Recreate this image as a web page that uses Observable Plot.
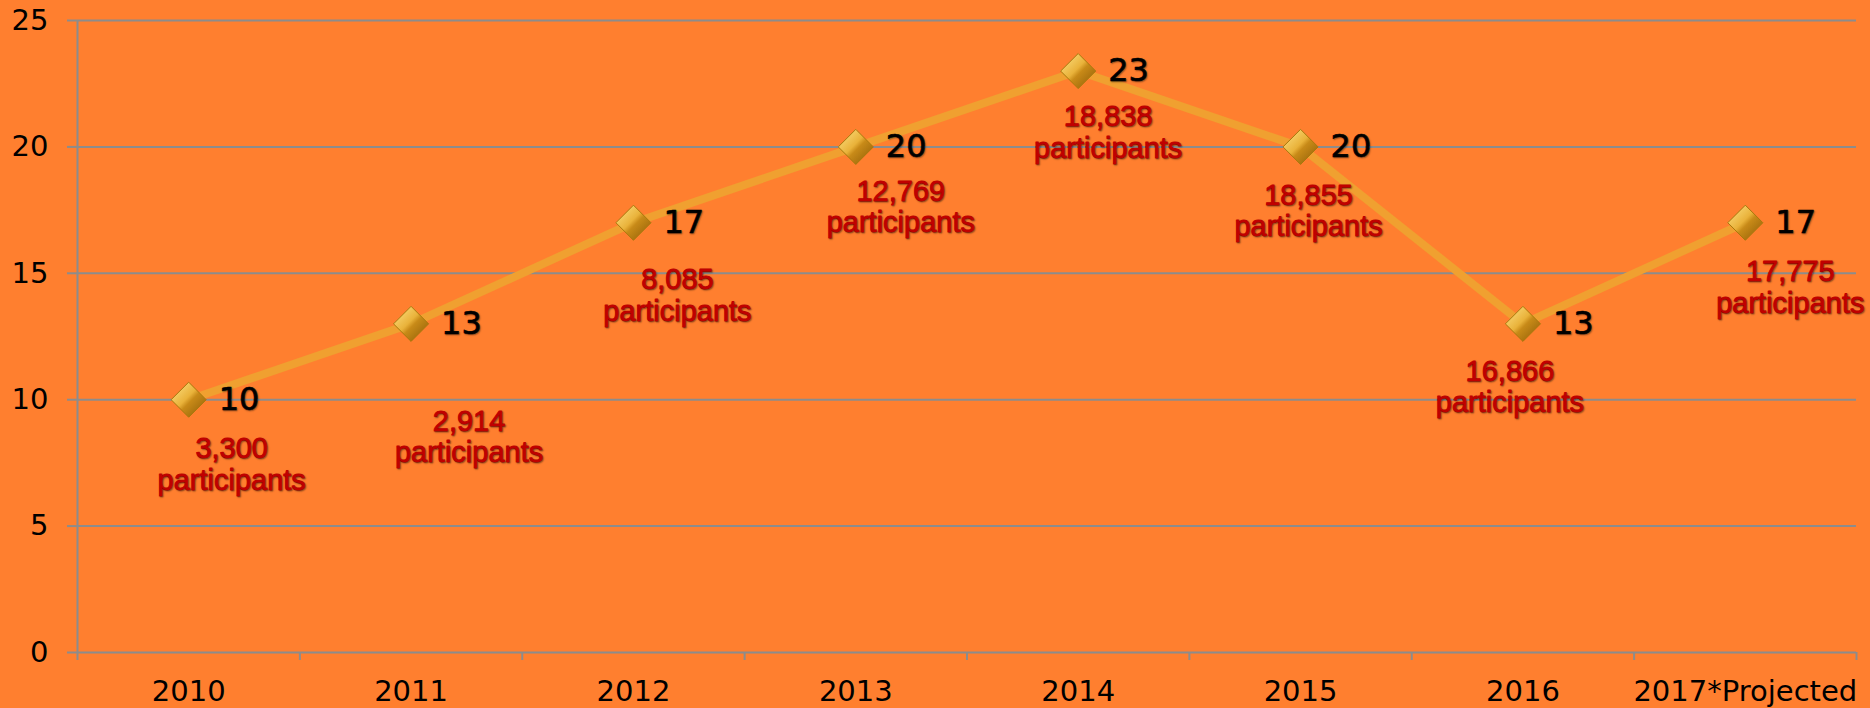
<!DOCTYPE html>
<html>
<head>
<meta charset="utf-8">
<script src="https://cdn.jsdelivr.net/npm/d3@7"></script>
<script src="https://cdn.jsdelivr.net/npm/@observablehq/plot@0.6"></script>
<style>
  html, body { margin: 0; padding: 0; background: #FF7F2F; }
  #chart svg { display: block; }
  g[aria-label="text"] text { text-shadow: 1px 1px 1.5px rgba(0,0,0,0.35); }
</style>
</head>
<body>
<div id="chart"></div>
<script>
// ---- data ----
const years = ["2010", "2011", "2012", "2013", "2014", "2015", "2016", "2017*Projected"];
const events = [10, 13, 17, 20, 23, 20, 13, 17];
const participants = ["3,300", "2,914", "8,085", "12,769", "18,838", "18,855", "16,866", "17,775"];
const yTicks = [0, 5, 10, 15, 20, 25];

// ---- label placement (pixel offsets from each point) ----
const labelOffsets = [[43, 36], [58, 84], [44, 44], [45, 31], [30, 32], [8, 35], [-13, 34], [45, 36]];

const data = years.map((year, i) => ({
  i, pos: i + 0.5, year, events: events[i],
  label: participants[i] + "\nparticipants"
}));

const gray = "#8c8c8c";
const numFont = "'DejaVu Sans', 'Liberation Sans', sans-serif";
const redLabels = data.map((d, i) => Plot.text([d], {
  x: "pos", y: "events", text: "label",
  dx: labelOffsets[i][0], dy: labelOffsets[i][1],
  lineAnchor: "top", textAnchor: "middle", lineHeight: 1.1,
  fontSize: 29, fontFamily: "'Liberation Sans', Arial, sans-serif",
  fill: "#C00000", stroke: "#C00000", strokeWidth: 0.9
}));

const svg = Plot.plot({
  width: 1870, height: 708,
  marginTop: 20, marginRight: 14, marginBottom: 56, marginLeft: 77,
  style: { background: "#FF7F2F", fontFamily: numFont, color: "black" },
  x: { domain: [0, years.length], axis: null },
  y: { domain: [0, 25], axis: null },
  marks: [
    Plot.ruleY(yTicks, { stroke: gray, strokeWidth: 2 }),
    Plot.ruleX([0], { stroke: gray, strokeWidth: 2 }),
    Plot.axisY({ ticks: yTicks, label: null, tickSize: 10, tickPadding: 19, stroke: gray, strokeWidth: 2, fill: "black", fontSize: 29 }),
    Plot.axisX({ ticks: d3.range(years.length + 1), label: null, tickSize: 8, tickFormat: () => "", stroke: gray, strokeWidth: 2 }),
    Plot.axisX({ ticks: data.map(d => d.pos), label: null, tickSize: 0, tickPadding: 28, tickFormat: v => years[Math.floor(v)], fill: "black", fontSize: 29 }),
    Plot.line(data, { x: "pos", y: "events", stroke: "#F0A030", strokeWidth: 8 }),
    Plot.dot(data, { x: "pos", y: "events", symbol: "diamond2", r: 15.8, fill: "url(#gold)", stroke: "#a8780c", strokeWidth: 1 }),
    Plot.text(data, { x: "pos", y: "events", text: d => String(d.events), textAnchor: "start", dx: 30, fontSize: 32, fill: "black", stroke: "black", strokeWidth: 0.6 }),
    ...redLabels
  ]
});

const defs = d3.select(svg).insert("defs", ":first-child");
const g = defs.append("linearGradient").attr("id", "gold")
  .attr("x1", "0%").attr("y1", "0%").attr("x2", "100%").attr("y2", "100%");
g.append("stop").attr("offset", "0%").attr("stop-color", "#ffe58a");
g.append("stop").attr("offset", "45%").attr("stop-color", "#e9b23a");
g.append("stop").attr("offset", "55%").attr("stop-color", "#c88a18");
g.append("stop").attr("offset", "100%").attr("stop-color", "#8a5a05");

document.getElementById("chart").appendChild(svg);
</script>
</body>
</html>
